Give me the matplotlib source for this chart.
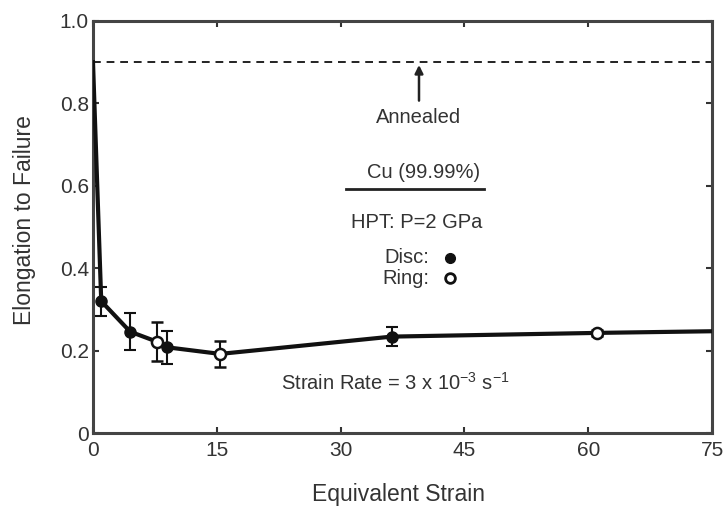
import matplotlib
matplotlib.use("Agg")
import matplotlib.pyplot as plt

plt.rcParams['font.family'] = ['Liberation Sans', 'DejaVu Sans']

# Curve (smooth trend) through the measurements
curve_x = [0, 1.0, 4.5, 7.7, 9.0, 15.4, 36.2, 61.1, 75]
curve_y = [0.90, 0.32, 0.246, 0.222, 0.208, 0.192, 0.234, 0.243, 0.247]

# Disc samples (filled)
disc_x = [1.0, 4.5, 9.0, 36.2]
disc_y = [0.32, 0.246, 0.208, 0.234]
disc_err = [0.035, 0.045, 0.04, 0.024]

# Ring samples (open)
ring_x = [7.7, 15.4, 61.1]
ring_y = [0.222, 0.192, 0.243]
ring_err = [0.047, 0.032, 0.008]

annealed_level = 0.9

x_ticks = [0, 15, 30, 45, 60, 75]
y_ticks = [0, 0.2, 0.4, 0.6, 0.8, 1.0]
y_tick_labels = ['0', '0.2', '0.4', '0.6', '0.8', '1.0']

fig = plt.figure(figsize=(7.23, 5.08), dpi=100)
ax = fig.add_axes([0.1286, 0.1476, 0.8562, 0.8111])

tc = '#333333'
fs = 14.5
ax.axhline(annealed_level, color='#222222', lw=1.4, ls=(0, (4, 3)))
ax.plot(curve_x, curve_y, color='#111111', lw=3, zorder=3)
ax.errorbar(disc_x, disc_y, yerr=disc_err, fmt='o', color='#111111',
            mfc='#111111', mec='#111111', ms=8, capsize=4, elinewidth=1.5,
            capthick=1.5, zorder=4)
ax.errorbar(ring_x, ring_y, yerr=ring_err, fmt='o', color='#111111',
            mfc='white', mec='#111111', mew=1.8, ms=8, capsize=4,
            elinewidth=1.5, capthick=1.5, zorder=4)

ax.set_xlim(0, 75)
ax.set_ylim(0, 1.0)
ax.set_xticks(x_ticks)
ax.set_yticks(y_ticks)
ax.set_yticklabels(y_tick_labels)
ax.tick_params(direction='in', length=4, width=1.5, top=True, right=True,
               labelsize=15, labelcolor=tc, color='#333333')
ax.tick_params(axis='y', pad=3)
ax.tick_params(axis='x', pad=6)
for s in ax.spines.values():
    s.set_linewidth(2.2)
    s.set_color('#444444')

ax.set_xlabel('Equivalent Strain', fontsize=16.5, color=tc)
ax.set_ylabel('Elongation to Failure', fontsize=16.5, color=tc)
ax.xaxis.label.set_va('center')
ax.yaxis.label.set_va('center')
ax.xaxis.set_label_coords(0.494, -0.150)
ax.yaxis.set_label_coords(-0.110, 0.517)

ax.annotate('', xy=(39.5, annealed_level), xytext=(39.5, 0.80),
            arrowprops=dict(arrowstyle='-|>', color='#222222', lw=1.8,
                            mutation_scale=12))
ax.text(39.5, 0.765, 'Annealed', ha='center', va='center', fontsize=fs, color=tc)
ax.text(40.0, 0.632, 'Cu (99.99%)', ha='center', va='center', fontsize=fs, color=tc)
ax.plot([30.7, 47.4], [0.592, 0.592], color='#222222', lw=2)
ax.text(39.2, 0.51, 'HPT: P=2 GPa', ha='center', va='center', fontsize=fs, color=tc)
ax.text(40.8, 0.425, 'Disc:', ha='right', va='center', fontsize=fs, color=tc)
ax.text(40.8, 0.376, 'Ring:', ha='right', va='center', fontsize=fs, color=tc)
ax.plot([43.2], [0.425], 'o', color='#111111', ms=7)
ax.plot([43.2], [0.376], 'o', mfc='white', mec='#111111', mew=2, ms=7)
ax.text(36.6, 0.121, r'Strain Rate = 3 x 10$^{\mathregular{-3}}$ s$^{\mathregular{-1}}$',
        ha='center', va='center', fontsize=fs, color=tc)

fig.savefig('out.png', dpi=100)
